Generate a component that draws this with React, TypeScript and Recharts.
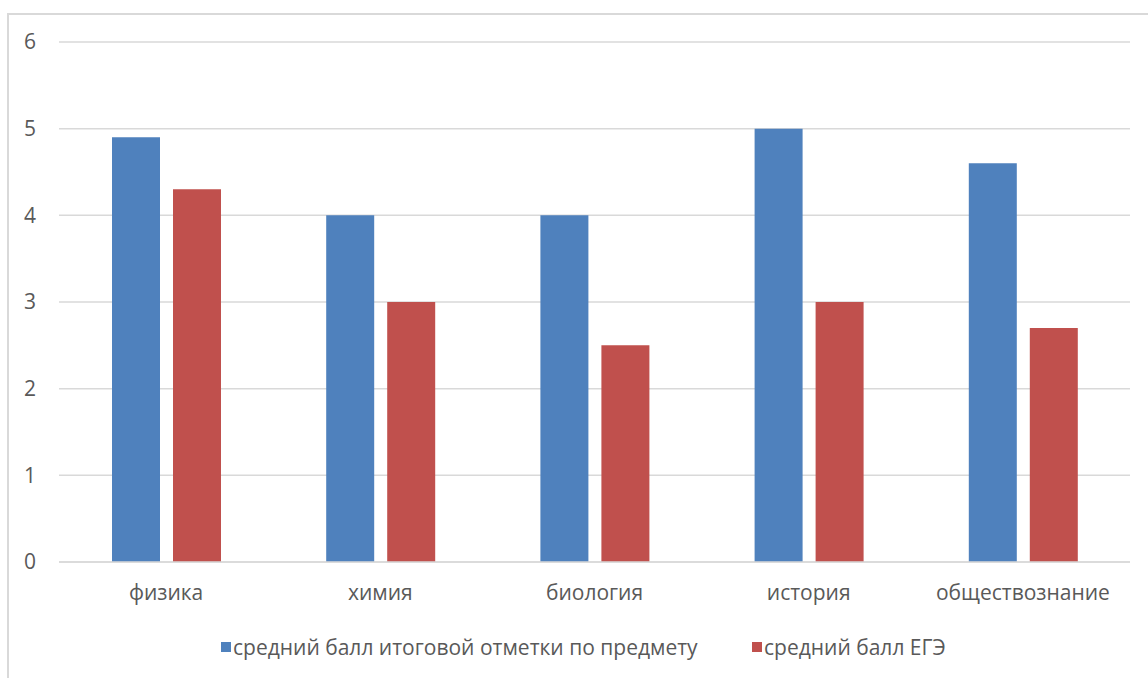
import React from 'react';
import { BarChart, Bar, XAxis, YAxis, CartesianGrid, Legend } from 'recharts';

const subjects = ['физика', 'химия', 'биология', 'история', 'обществознание'];
const finalGrade = [4.9, 4, 4, 5, 4.6];
const examScore = [4.3, 3, 2.5, 3, 2.7];
const yTicks = [0, 1, 2, 3, 4, 5, 6];

const seriesNames = {
  finalGrade: 'средний балл итоговой отметки по предмету',
  examScore: 'средний балл ЕГЭ',
};

const BLUE = '#4F81BD';
const RED = '#C0504D';
const TEXT = '#595959';
const GRID = '#D9D9D9';
const FONT = '"Open Sans", "Noto Sans", sans-serif';

const data = subjects.map((name, i) => ({
  name,
  finalGrade: finalGrade[i],
  examScore: examScore[i],
}));

function LegendContent() {
  const items = [
    { label: seriesNames.finalGrade, color: BLUE, width: 531 },
    { label: seriesNames.examScore, color: RED, width: 300 },
  ];
  return (
    <div style={{ display: 'flex', fontFamily: FONT, fontSize: 21, color: TEXT }}>
      {items.map(item => (
        <div key={item.label} style={{ display: 'flex', alignItems: 'center', width: item.width }}>
          <span style={{ display: 'inline-block', width: 10, height: 10, background: item.color, marginRight: 2 }} />
          <span style={{ whiteSpace: 'nowrap' }}>{item.label}</span>
        </div>
      ))}
    </div>
  );
}

export default function App() {
  return (
    <div style={{ position: 'absolute', left: 0, top: 0, width: 1148, height: 678, overflow: 'hidden', background: '#fff' }}>
      {/* chart frame, only top and left edges fall inside the picture */}
      <div
        style={{
          position: 'absolute',
          left: 7,
          top: 13,
          width: 1200,
          height: 720,
          borderTop: `2px solid ${GRID}`,
          borderLeft: `2px solid ${GRID}`,
        }}
      />
      <div style={{ position: 'absolute', left: 0, top: 0 }}>
        <BarChart
          width={1148}
          height={678}
          data={data}
          margin={{ top: 42, right: 18, bottom: 56, left: 0 }}
          barSize={48}
          barGap={13}
        >
          <CartesianGrid vertical={false} stroke={GRID} strokeWidth={1.5} />
          <XAxis
            dataKey="name"
            height={60}
            axisLine={{ stroke: GRID, strokeWidth: 1.5 }}
            tickLine={false}
            tickSize={0}
            tickMargin={23}
            tick={{ fill: TEXT, fontSize: 21, fontFamily: FONT }}
          />
          <YAxis
            domain={[0, 6]}
            ticks={yTicks}
            width={59}
            axisLine={false}
            tickLine={false}
            tickSize={0}
            tickMargin={23}
            tick={{ fill: TEXT, fontSize: 21, fontFamily: FONT }}
          />
          <Legend
            layout="horizontal"
            verticalAlign="middle"
            align="center"
            wrapperStyle={{ top: 633, left: 221, width: 900 }}
            content={<LegendContent />}
          />
          <Bar dataKey="finalGrade" name={seriesNames.finalGrade} fill={BLUE} isAnimationActive={false} />
          <Bar dataKey="examScore" name={seriesNames.examScore} fill={RED} isAnimationActive={false} />
        </BarChart>
      </div>
    </div>
  );
}
